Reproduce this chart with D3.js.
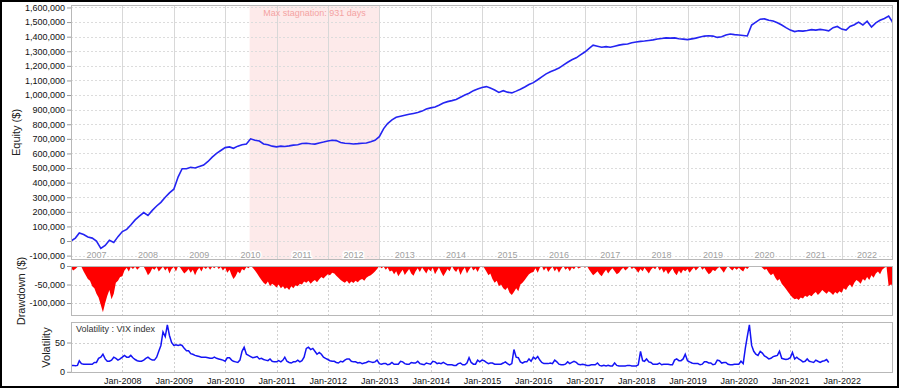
<!DOCTYPE html>
<html>
<head>
<meta charset="utf-8">
<script src="https://cdn.jsdelivr.net/npm/d3@7/dist/d3.min.js"></script>
<style>
body { margin: 0; background: #fff; }
svg { display: block; font-family: "Liberation Sans", Arial, sans-serif; }
</style>
</head>
<body>
<svg id="chart" width="900" height="389"></svg>
<script>
// equity in thousands of $, one value per month from Jan 2007
var equity = [
  0, 20, 55, 45, 28, 20, 0, -50, -30, 5, -10, 30,
  65, 80, 110, 145, 170, 195, 175, 210, 240, 265, 300, 330,
  355, 440, 495, 495, 505, 500, 510, 520, 545, 575, 600, 620,
  640, 645, 635, 650, 660, 665, 700, 690, 685, 665, 660, 650,
  645, 650, 648, 652, 657, 660, 668, 670, 666, 664, 672, 678,
  685, 690, 688, 675, 670, 668, 665, 667, 670, 672, 680, 690,
  715, 770, 805, 830, 848, 855, 862, 868, 874, 880, 890, 905,
  912, 918, 930, 945, 955, 962, 970, 985, 1000, 1012, 1030, 1042,
  1052, 1058, 1048, 1035, 1018, 1030, 1020, 1015, 1027, 1040, 1055, 1072,
  1085, 1105, 1125, 1145, 1160, 1172, 1185, 1205, 1225, 1242, 1255, 1275,
  1295, 1320, 1342, 1335, 1328, 1332, 1328, 1335, 1342, 1347, 1350, 1358,
  1364, 1368, 1370, 1374, 1378, 1384, 1388, 1392, 1390, 1392, 1386, 1383,
  1380, 1385, 1390, 1398, 1404, 1406, 1404, 1395, 1400, 1412, 1418, 1414,
  1411, 1408, 1405, 1480, 1500, 1520, 1522, 1512, 1508, 1495, 1480, 1462,
  1445, 1435, 1440, 1438, 1442, 1448, 1445, 1450, 1446, 1440, 1462, 1470,
  1452, 1445, 1470, 1482, 1500, 1480, 1506, 1466, 1495, 1512, 1525, 1541,
  1495
];

// drawdown in thousands of $, twice a month (1st and 16th) from Jan 2007
var drawdown = [
  -5, -12, -8, -3, 0, -2, -15, -25, -35, -40, -55, -60, -75, -85, -105, -125, -100, -80, -65, -90, -75, -45, -40, -30,
  -28, -12, -5, -15, -3, -8, -2, -10, -4, 0, -2, -12, -25, -18, -6, -10, -3, -15, -8, -2, -12, -5, -20, -8,
  -3, -15, 0, -5, -12, -20, -15, -8, -18, -10, -25, -12, -5, -15, -3, -8, -2, -10, -2, -6, 0, -8, -3, -12,
  -5, -18, -10, -25, -35, -28, -15, -20, -8, -12, -3, -6, 0, -5, -12, -20, -30, -38, -45, -50, -42, -55, -48, -52,
  -58, -50, -60, -55, -62, -58, -65, -55, -60, -52, -55, -48, -50, -42, -45, -40, -48, -42, -38, -44, -36, -30, -34, -28,
  -22, -25, -18, -20, -26, -32, -38, -42, -45, -40, -48, -42, -46, -40, -44, -38, -35, -40, -32, -28, -25, -20, -15, -8,
  0, -6, -2, -10, -4, -15, -12, -22, -14, -28, -18, -10, -24, -16, -8, -20, -26, -14, -6, -16, -4, -12, -20, -8,
  -14, -5, -22, -12, -4, -16, -28, -18, -8, -14, 0, -10, -16, -6, -24, -12, -4, -20, -10, -2, -12, -6, -16, -4,
  0, -5, -15, -25, -20, -35, -45, -40, -55, -50, -60, -65, -58, -72, -78, -70, -60, -68, -50, -45, -38, -30, -22, -18,
  -16, -6, -18, -5, 0, -12, -4, -16, -8, -2, -14, -6, -18, -8, 0, -10, -5, -14, -4, -9, 0, -7, -4, 0,
  -5, 0, -10, -18, -25, -20, -14, -22, -28, -18, -10, -20, -12, -6, -14, -22, -18, -10, -5, -12, -7, 0, -8, -4,
  -10, -18, -8, -14, -5, -12, -20, -10, -4, -9, 0, -12, -6, -18, -10, -22, -14, -7, -18, -25, -12, -20, -10, -14,
  -8, -18, -10, -4, -12, -6, 0, -10, -5, -14, -22, -18, -10, -14, -7, -3, -10, -18, -8, 0, -7, -12, -5, -10,
  -5, -10, -15, -4, -8, -2, 0, -3, 0, -2, 0, -5, -10, -8, -18, -25, -20, -32, -40, -35, -48, -55, -62, -70,
  -78, -85, -90, -88, -92, -85, -88, -80, -84, -78, -82, -75, -70, -78, -72, -65, -70, -75, -68, -72, -78, -70, -75, -68,
  -72, -60, -65, -55, -50, -58, -45, -38, -42, -48, -35, -40, -30, -38, -25, -32, -20, -15, -22, -10, -5, -2, -55, -50,
  -52
];

// VIX index, twice a month (1st and 16th) from Jan 2007 to Oct 2021
var vix = [
  11, 11, 10.5, 11, 19, 14, 13, 13, 13, 13, 13, 16, 16, 23, 25, 30, 22, 18, 18, 20, 25, 23, 20, 22,
  25, 28, 25, 25, 28, 24, 21, 19, 18, 18, 20, 23, 25, 22, 20, 20, 25, 35, 45, 68, 60, 80, 62, 50,
  45, 46, 45, 46, 45, 40, 36, 36, 31, 30, 28, 27, 26, 25, 25, 25, 24, 23, 23, 25, 23, 22, 21, 20,
  18, 24, 24, 20, 18, 17, 16, 20, 35, 42, 30, 28, 26, 24, 25, 26, 22, 23, 21, 20, 19, 22, 18, 17,
  17, 19, 17, 20, 25, 18, 16, 15, 17, 17, 20, 17, 19, 25, 40, 42, 38, 40, 35, 30, 33, 30, 25, 23,
  21, 19, 18, 18, 16, 15, 18, 17, 20, 22, 22, 18, 17, 17, 15, 16, 14, 15, 16, 18, 17, 16, 17, 20,
  14, 13, 14, 14, 12, 13, 16, 13, 13, 13, 18, 17, 14, 13, 13, 16, 15, 15, 18, 14, 13, 12, 15, 14,
  13, 18, 17, 14, 15, 14, 16, 14, 12, 12, 12, 11, 11, 14, 15, 12, 12, 15, 24, 16, 13, 13, 20, 17,
  20, 19, 16, 14, 15, 15, 13, 13, 13, 13, 15, 17, 14, 12, 14, 38, 25, 24, 17, 15, 17, 17, 22, 18,
  25, 22, 26, 20, 16, 14, 14, 14, 15, 14, 20, 17, 13, 12, 12, 13, 17, 14, 16, 18, 16, 13, 12, 13,
  12, 11, 11, 12, 12, 12, 15, 11, 10, 11, 10, 11, 10, 10, 15, 11, 10, 10, 10, 10, 11, 11, 10, 10,
  10, 12, 35, 19, 18, 22, 17, 16, 13, 13, 13, 15, 12, 13, 13, 13, 12, 12, 20, 22, 19, 19, 22, 30,
  19, 17, 15, 14, 14, 14, 12, 13, 17, 17, 15, 15, 12, 13, 20, 19, 15, 16, 16, 13, 12, 12, 13, 13,
  13, 18, 14, 40, 60, 80, 45, 35, 30, 28, 35, 32, 27, 25, 22, 23, 26, 27, 28, 35, 23, 22, 21, 22,
  24, 33, 22, 25, 22, 20, 17, 18, 22, 18, 17, 16, 20, 18, 16, 18, 19, 21, 16
];

var yearLabels = d3.range(2007, 2023);
var janLabels = d3.range(2008, 2023);
var equityTicks = d3.range(-100000, 1600001, 100000);
var ddTicks = [0, -50000, -100000];
var volTicks = [0, 50];
var stagnation = ["2010-06-24", "2013-01-01"];
var stagnationText = "Max stagnation: 931 days";

function monthDate(i) { return new Date(2007, i, 1); }
function halfMonthDate(i) { return new Date(2007, Math.floor(i / 2), i % 2 ? 16 : 1); }
function fmt(d) { return d3.format(",")(d).replace("\u2212", "-"); }

var svg = d3.select("#chart");
var left = 71, right = 893;
var x = d3.scaleTime().domain([new Date(2007, 0, 1), new Date(2023, 0, 1)]).range([left, right]);

var main = { top: 5, bottom: 260 };
var dd = { top: 266, bottom: 316 };
var vol = { top: 322, bottom: 373 };

var yMain = d3.scaleLinear().domain([-130000, 1617000]).range([main.bottom, main.top]);
var yDd = d3.scaleLinear().domain([-135000, 0]).range([dd.bottom, dd.top]);
var yVol = d3.scaleLinear().domain([-2, 85]).range([vol.bottom, vol.top]);

svg.append("rect").attr("width", 900).attr("height", 389).attr("fill", "#fff");

// clip paths for panels
[["clipMain", main], ["clipDd", dd], ["clipVol", vol]].forEach(function(c) {
  svg.append("clipPath").attr("id", c[0]).append("rect")
    .attr("x", left).attr("y", c[1].top).attr("width", right - left).attr("height", c[1].bottom - c[1].top);
});

// ---- main equity panel ----
var gMain = svg.append("g").attr("clip-path", "url(#clipMain)");
gMain.append("rect")
  .attr("x", x(new Date(stagnation[0]))).attr("y", main.top)
  .attr("width", x(new Date(stagnation[1])) - x(new Date(stagnation[0])))
  .attr("height", main.bottom - main.top)
  .attr("fill", "#fdeaea");
gMain.selectAll(".hgrid").data(equityTicks).enter().append("line")
  .attr("x1", left).attr("x2", right)
  .attr("y1", function(d) { return Math.round(yMain(d)) + 0.5; })
  .attr("y2", function(d) { return Math.round(yMain(d)) + 0.5; })
  .attr("stroke", "#dcdcdc").attr("stroke-dasharray", "2,2");
gMain.selectAll(".vgrid").data(janLabels).enter().append("line")
  .attr("x1", function(d) { return Math.round(x(new Date(d, 0, 1))) + 0.5; })
  .attr("x2", function(d) { return Math.round(x(new Date(d, 0, 1))) + 0.5; })
  .attr("y1", main.top).attr("y2", main.bottom)
  .attr("stroke", "#d8d8d8");
gMain.selectAll(".year").data(yearLabels).enter().append("text")
  .attr("x", function(d) { return x(new Date(d, 6, 1)); })
  .attr("y", 258)
  .attr("text-anchor", "middle")
  .attr("font-size", 9)
  .attr("fill", "#a0a0a0")
  .attr("stroke", "#fff").attr("stroke-width", 3).attr("paint-order", "stroke")
  .text(function(d) { return d; });
gMain.append("text")
  .attr("x", (x(new Date(stagnation[0])) + x(new Date(stagnation[1]))) / 2)
  .attr("y", 16)
  .attr("text-anchor", "middle")
  .attr("font-size", 9)
  .attr("fill", "#f4a3a3")
  .text(stagnationText);
gMain.append("path")
  .datum(equity)
  .attr("fill", "none")
  .attr("stroke", "#2424f2")
  .attr("stroke-width", 1.6)
  .attr("d", d3.line()
    .x(function(d, i) { return x(monthDate(i)); })
    .y(function(d) { return yMain(d * 1000); }));

// ---- drawdown panel ----
var gDd = svg.append("g").attr("clip-path", "url(#clipDd)");
gDd.selectAll(".hgrid").data(ddTicks).enter().append("line")
  .attr("x1", left).attr("x2", right)
  .attr("y1", function(d) { return Math.round(yDd(d)) + 0.5; })
  .attr("y2", function(d) { return Math.round(yDd(d)) + 0.5; })
  .attr("stroke", "#d0d0d0").attr("stroke-dasharray", "2,2");
gDd.selectAll(".vgrid").data(janLabels).enter().append("line")
  .attr("x1", function(d) { return Math.round(x(new Date(d, 0, 1))) + 0.5; })
  .attr("x2", function(d) { return Math.round(x(new Date(d, 0, 1))) + 0.5; })
  .attr("y1", dd.top).attr("y2", dd.bottom)
  .attr("stroke", "#d0d0d0").attr("stroke-dasharray", "2,2");
gDd.append("path")
  .datum(drawdown)
  .attr("fill", "#ff0000")
  .attr("d", d3.area()
    .x(function(d, i) { return x(halfMonthDate(i)); })
    .y0(yDd(0))
    .y1(function(d) { return yDd(d * 1000); }));

// ---- volatility panel ----
var gVol = svg.append("g").attr("clip-path", "url(#clipVol)");
gVol.selectAll(".hgrid").data(volTicks).enter().append("line")
  .attr("x1", left).attr("x2", right)
  .attr("y1", function(d) { return Math.round(yVol(d)) + 0.5; })
  .attr("y2", function(d) { return Math.round(yVol(d)) + 0.5; })
  .attr("stroke", "#d0d0d0").attr("stroke-dasharray", "2,2");
gVol.selectAll(".vgrid").data(janLabels).enter().append("line")
  .attr("x1", function(d) { return Math.round(x(new Date(d, 0, 1))) + 0.5; })
  .attr("x2", function(d) { return Math.round(x(new Date(d, 0, 1))) + 0.5; })
  .attr("y1", vol.top).attr("y2", vol.bottom)
  .attr("stroke", "#d0d0d0").attr("stroke-dasharray", "2,2");
gVol.append("text")
  .attr("x", 76).attr("y", 332)
  .attr("font-size", 9).attr("fill", "#333")
  .text("Volatility : VIX index");
gVol.append("path")
  .datum(vix)
  .attr("fill", "none")
  .attr("stroke", "#1414f5")
  .attr("stroke-width", 1.5)
  .attr("d", d3.line()
    .x(function(d, i) { return x(halfMonthDate(i)); })
    .y(function(d) { return yVol(d); }));

// panel frames
[main, dd, vol].forEach(function(p) {
  svg.append("rect")
    .attr("x", left + 0.5).attr("y", p.top + 0.5)
    .attr("width", right - left - 1).attr("height", p.bottom - p.top - 1)
    .attr("fill", "none").attr("stroke", "#b8b8b8");
});

// axes
function styleAxis(g) {
  g.select(".domain").remove();
  g.selectAll(".tick line").attr("stroke", "#999");
  g.selectAll("text").attr("font-size", 9).attr("fill", "#111")
    .attr("font-family", "Liberation Sans, Arial, sans-serif");
}
svg.append("g").attr("transform", "translate(" + left + ",0)")
  .call(d3.axisLeft(yMain).tickValues(equityTicks).tickSize(4).tickPadding(2).tickFormat(fmt))
  .call(styleAxis);
svg.append("g").attr("transform", "translate(" + left + ",0)")
  .call(d3.axisLeft(yDd).tickValues(ddTicks).tickSize(4).tickPadding(2).tickFormat(fmt))
  .call(styleAxis);
svg.append("g").attr("transform", "translate(" + left + ",0)")
  .call(d3.axisLeft(yVol).tickValues(volTicks).tickSize(4).tickPadding(2).tickFormat(fmt))
  .call(styleAxis);
svg.append("g").attr("transform", "translate(0," + vol.bottom + ")")
  .call(d3.axisBottom(x).tickValues(janLabels.map(function(y) { return new Date(y, 0, 1); }))
    .tickSize(0).tickPadding(5).tickFormat(d3.timeFormat("Jan-%Y")))
  .call(styleAxis);

// axis titles
function yTitle(txt, cx, cy) {
  svg.append("text")
    .attr("transform", "translate(" + cx + "," + cy + ") rotate(-90)")
    .attr("text-anchor", "middle")
    .attr("font-size", 11)
    .attr("fill", "#222")
    .text(txt);
}
yTitle("Equity ($)", 20, (main.top + main.bottom) / 2);
yTitle("Drawdown ($)", 25, (dd.top + dd.bottom) / 2);
yTitle("Volatility", 50, (vol.top + vol.bottom) / 2);

// outer frame
svg.append("rect").attr("x", 1).attr("y", 1).attr("width", 897).attr("height", 386)
  .attr("fill", "none").attr("stroke", "#000").attr("stroke-width", 2);
</script>
</body>
</html>
